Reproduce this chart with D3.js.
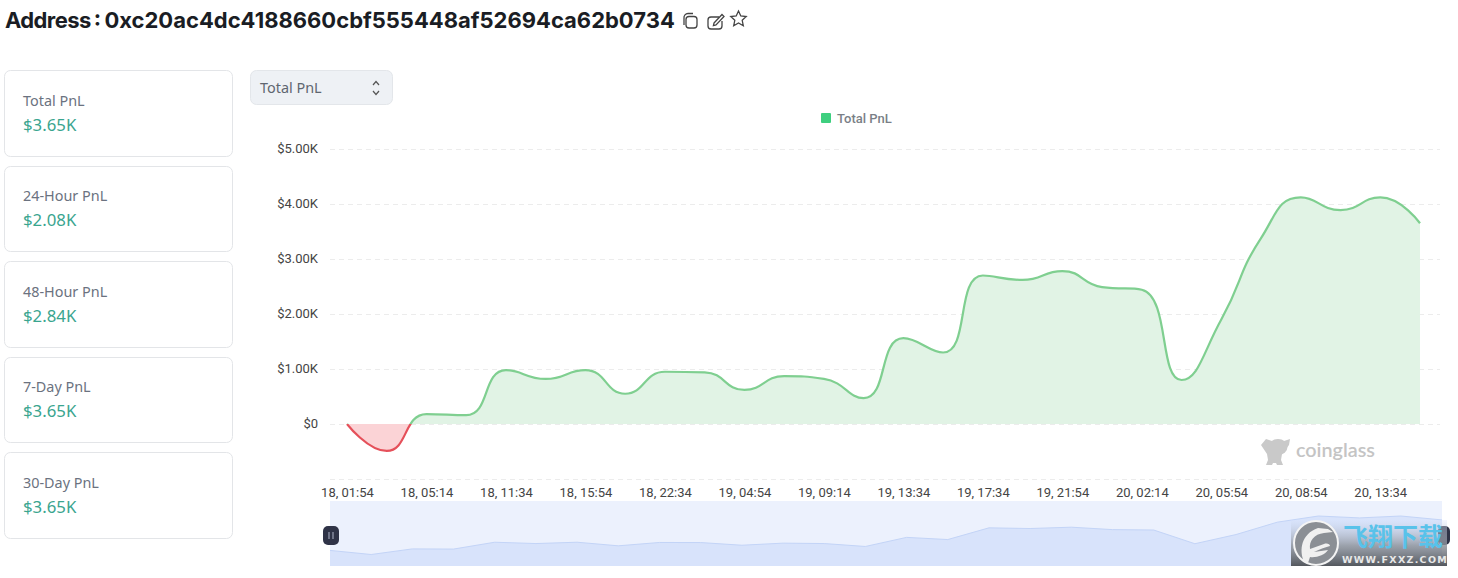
<!DOCTYPE html>
<html><head><meta charset="utf-8">
<script src="https://cdn.jsdelivr.net/npm/d3@7/dist/d3.min.js"></script>
<style>html,body{margin:0;padding:0;background:#fff;overflow:hidden}svg{display:block}text{font-family:"Noto Sans",sans-serif}</style>
</head><body><svg id="c" width="1458" height="578"></svg>
<script>
const titleLead = "Address";
const titleRest = " : 0xc20ac4dc4188660cbf555448af52694ca62b0734";
const cardLabels = ["Total PnL","24-Hour PnL","48-Hour PnL","7-Day PnL","30-Day PnL"];
const cardValues = ["$3.65K","$2.08K","$2.84K","$3.65K","$3.65K"];
const tickLabels = ["18, 01:54","18, 05:14","18, 11:34","18, 15:54","18, 22:34","19, 04:54","19, 09:14","19, 13:34","19, 17:34","19, 21:54","20, 02:14","20, 05:54","20, 08:54","20, 13:34"];
const yTicks = [-1000,0,1000,2000,3000,4000,5000];
const pnl = [0,-490,180,160,980,820,980,550,950,940,620,870,820,470,1560,1300,2700,2620,2780,2490,2440,800,1900,3380,4120,3890,4120,3650];

const svg = d3.select("#c");
const idx = pnl.map((_,i)=>i);
const x = d3.scaleLinear().domain([0,27]).range([347,1420]);
const y = d3.scaleLinear().domain([-1000,5000]).range([479,149]);
const tickFont = "Roboto";

// Spline with neighbour-weighted tangents, clamped to each segment's box
function smoothLine(pts, smooth=0.5){
  const p = d3.path(), clamp=(v,a,b)=>Math.min(Math.max(v,Math.min(a,b)),Math.max(a,b));
  let c0 = pts[0];
  p.moveTo(pts[0][0],pts[0][1]);
  for(let i=1;i<pts.length;i++){
    const cur=pts[i], prev=pts[i-1], next=pts[i+1];
    if(!next){ p.bezierCurveTo(c0[0],c0[1],cur[0],cur[1],cur[0],cur[1]); break; }
    const lp=Math.hypot(cur[0]-prev[0],cur[1]-prev[1]), ln=Math.hypot(next[0]-cur[0],next[1]-cur[1]);
    const r=ln/(ln+lp), vx=next[0]-prev[0], vy=next[1]-prev[1];
    let nx=clamp(cur[0]+vx*smooth*r,cur[0],next[0]), ny=clamp(cur[1]+vy*smooth*r,cur[1],next[1]);
    let dx=nx-cur[0], dy=ny-cur[1];
    let cx=clamp(cur[0]-dx*lp/ln,cur[0],prev[0]), cy=clamp(cur[1]-dy*lp/ln,cur[1],prev[1]);
    dx=cur[0]-cx; dy=cur[1]-cy;
    nx=cur[0]+dx*ln/lp; ny=cur[1]+dy*ln/lp;
    p.bezierCurveTo(c0[0],c0[1],cx,cy,cur[0],cur[1]);
    c0=[nx,ny];
  }
  return p.toString();
}
const pts = idx.map(i=>[x(i),y(pnl[i])]);
const linePath = smoothLine(pts);
const areaPath = linePath+`L${x(27)},${y(0)}L${x(0)},${y(0)}Z`;

// header
const tt = svg.append("text").attr("x",5).attr("y",28).attr("font-size",22).attr("font-weight",700).attr("fill","#1a1d24").style("font-family","Inter").attr("xml:space","preserve").style("white-space","pre");
tt.append("tspan").attr("letter-spacing",-0.6).text(titleLead);
tt.append("tspan").attr("word-spacing",-2).text(titleRest);
const ic = svg.append("g").attr("fill","none").attr("stroke","#444").attr("stroke-width",1.3);
ic.append("rect").attr("x",686).attr("y",16.5).attr("width",11).attr("height",11.5).attr("rx",3);
ic.append("path").attr("d","M684 25v-7a4 4 0 0 1 4-4.5h5");
ic.append("path").attr("d","M719 17h-8a3 3 0 0 0-3 3v6a3 3 0 0 0 3 3h8a3 3 0 0 0 3-3v-5");
ic.append("path").attr("d","M714 23l8-8.5 2 2-8 8.5-2.6.6z");
ic.append("path").attr("d","M738.5 11l2.3 5 5.4.6-4 3.7 1.1 5.4-4.8-2.7-4.8 2.7 1.1-5.4-4-3.7 5.4-.6z");

// cards
const cardTop = [70,166,261,357,452], cardH = [86,85,86,85,86], cardBase=[106,201,297,392,488];
cardLabels.forEach((l,i)=>{
  svg.append("rect").attr("x",4.5).attr("y",cardTop[i]+.5).attr("width",228).attr("height",cardH[i]).attr("rx",6).attr("fill","#fff").attr("stroke","#e3e5e8");
  svg.append("text").attr("x",23).attr("y",cardBase[i]).attr("font-size",14.4).attr("fill","#6b7280").text(l);
  svg.append("text").attr("x",23).attr("y",cardBase[i]+25).attr("font-size",16.8).attr("fill","#3aa58f").text(cardValues[i]);
});

// select
svg.append("rect").attr("x",250.5).attr("y",70.5).attr("width",142).attr("height",34).attr("rx",6).attr("fill","#eef1f5").attr("stroke","#e3e6ea");
svg.append("text").attr("x",260).attr("y",93).attr("font-size",14.4).attr("fill","#5f6670").text("Total PnL");
svg.append("path").attr("d","M373 85l3-3.5 3 3.5M373 91l3 3.5 3-3.5").attr("fill","none").attr("stroke","#555").attr("stroke-width",1.2);

// legend
svg.append("rect").attr("x",821).attr("y",113).attr("width",10).attr("height",10).attr("rx",1).attr("fill","#3ecf7f");
svg.append("text").attr("x",837).attr("y",122.5).attr("font-size",13).attr("font-weight",500).attr("fill","#7a7f87").style("font-family",tickFont).text("Total PnL");

// grid and y axis
const fmt = v => v===0 ? "$0" : "$"+(v/1000).toFixed(2)+"K";
const yAxis = svg.append("g").attr("transform","translate(330,-1)")
  .call(d3.axisLeft(y).tickValues(yTicks.filter(v=>v>=0)).tickSize(0).tickPadding(12).tickFormat(fmt));
yAxis.select(".domain").remove();
yAxis.selectAll("text").attr("font-size",13).attr("fill","#444").style("font-family",tickFont);
svg.append("g").selectAll("line").data(yTicks).join("line")
  .attr("x1",330).attr("x2",1440).attr("y1",d=>y(d)+.5).attr("y2",d=>y(d)+.5)
  .attr("stroke","#ececec").attr("stroke-dasharray","5 4");

// area + line, split at zero
const defs = svg.append("defs");
defs.append("clipPath").attr("id","pos").append("rect").attr("x",320).attr("y",100).attr("width",1130).attr("height",y(0)-100);
defs.append("clipPath").attr("id","neg").append("rect").attr("x",320).attr("y",y(0)).attr("width",1130).attr("height",80);
[["pos","#e1f3e5","#7fcf90"],["neg","#fbd3d6","#e5505a"]].forEach(([c,f,s])=>{
  const g = svg.append("g").attr("clip-path",`url(#${c})`);
  g.append("path").attr("d",areaPath).attr("fill",f);
  g.append("path").attr("d",linePath).attr("fill","none").attr("stroke",s).attr("stroke-width",2.2);
});

// x axis
const xAxis = svg.append("g").attr("transform","translate(0,480)")
  .call(d3.axisBottom(x).tickValues(tickLabels.map((_,i)=>i*2)).tickSize(0).tickPadding(8).tickFormat(i=>tickLabels[i/2]));
xAxis.select(".domain").remove();
xAxis.selectAll("text").attr("font-size",13).attr("fill","#444").style("font-family",tickFont);

// coinglass mark
const wm = svg.append("g").attr("fill","#c9c9c9");
wm.append("ellipse").attr("cx",1278).attr("cy",447).attr("rx",9.5).attr("ry",8);
wm.append("path").attr("d","M1266 439l6 2h12l6-2-1 6-7 9-1 6 2 5h-6l-1-2h-3l-1 2h-6l2-5-1-6-6-9z");
svg.append("text").attr("x",1296).attr("y",457).attr("font-size",19.8).attr("font-weight",600).attr("fill","#c4c4c4").style("font-family","Lato").text("coinglass");

// overview slider
const xo = d3.scaleLinear().domain([0,27]).range([330,1442]);
const yo = d3.scaleLinear().domain([-490,4120]).range([554.5,516]);
svg.append("rect").attr("x",330).attr("y",501).attr("width",1112).attr("height",65).attr("fill","#ecf1fd");
svg.append("path").datum(idx).attr("d",d3.area().x(i=>xo(i)).y0(566).y1(i=>yo(pnl[i]))).attr("fill","#d8e3fb");
svg.append("path").datum(idx).attr("d",d3.line().x(i=>xo(i)).y(i=>yo(pnl[i]))).attr("fill","none").attr("stroke","#c3d4f7").attr("stroke-width",1);
svg.append("rect").attr("x",323).attr("y",526).attr("width",16).attr("height",19).attr("rx",5).attr("fill","#2f3347");
svg.append("path").attr("d","M329 532v7M333 532v7").attr("stroke","#8a8fa3").attr("stroke-width",1.4);
svg.append("rect").attr("x",1438).attr("y",526).attr("width",12).attr("height",19).attr("rx",5).attr("fill","#2f3347");

// site watermark stamp
const lg = defs.append("linearGradient").attr("id","stamp").attr("x1",0).attr("y1",0).attr("x2",0).attr("y2",1);
lg.append("stop").attr("offset",0).attr("stop-color","#d8e3fb").attr("stop-opacity",.3);
lg.append("stop").attr("offset",.55).attr("stop-color","#8d9299").attr("stop-opacity",.8);
lg.append("stop").attr("offset",1).attr("stop-color","#54585e");
const st = svg.append("g");
st.append("rect").attr("x",1291).attr("y",520).attr("width",156).attr("height",46).attr("fill","url(#stamp)");
st.append("circle").attr("cx",1316).attr("cy",543).attr("r",22).attr("fill","#8b8f95").attr("stroke","#f4f4f4").attr("stroke-width",2);
st.append("path").attr("d","M1304 562c-5-12-3-28 14-34l10 1 5 3-9 1c-10 1-15 8-14 16l14-5c3-1 6 0 6 2-4 1-10 3-16 6l14-2c-3 5-12 8-18 7l-2 6z").attr("fill","#f0f0f0");
st.append("text").attr("x",1343).attr("y",546).attr("font-size",25).attr("font-weight",700).attr("fill","#58c2ea").style("font-family","Noto Sans CJK SC").text("飞翔下载");
st.append("text").attr("x",1342).attr("y",563).attr("font-size",9.5).attr("font-weight",700).attr("letter-spacing",1.3).attr("fill","#e8e8e8").style("font-family","DejaVu Sans").text("WWW.FXXZ.COM");
</script></body></html>
